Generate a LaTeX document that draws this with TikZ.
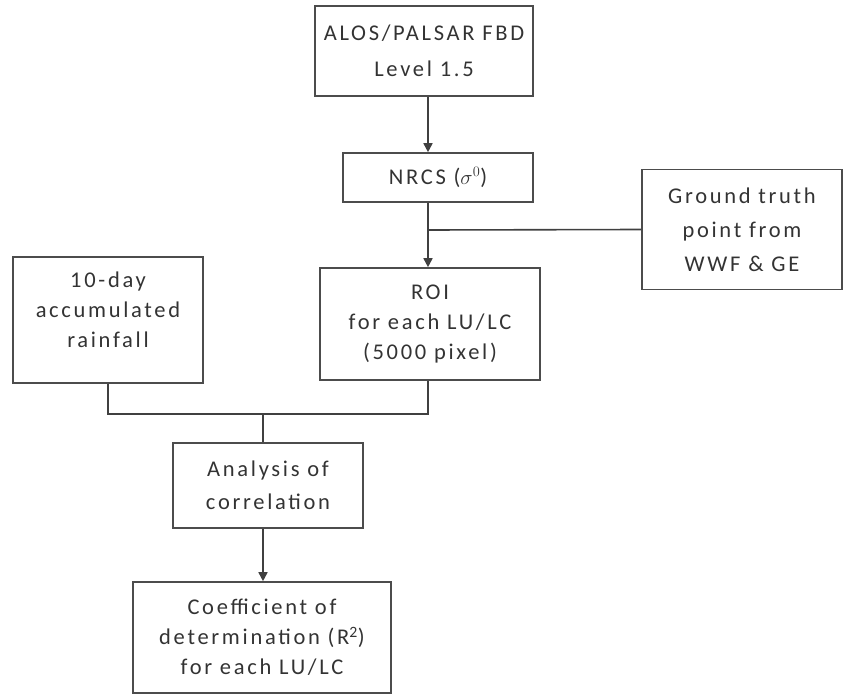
\documentclass[tikz,border=0pt]{standalone}
\usepackage{fontspec}
\setmainfont{Carlito}[LetterSpace=12]
\usetikzlibrary{arrows.meta}
\begin{document}
\begin{tikzpicture}[x=1pt,y=-1pt,
  box/.style={draw=black!70, line width=1.6pt, align=center, inner sep=0pt, text=black!80,
    font=\fontsize{22.5}{30}\selectfont},
  conn/.style={draw=black!75, line width=1.6pt},
  arr/.style={conn, -{Triangle[width=9pt,length=9pt]}}]
\useasboundingbox (0,0) rectangle (845,695);
\node[box, minimum width=218pt, minimum height=90pt] (alos) at (424,51) {ALOS/PALSAR FBD\\[6pt]Level 1.5};
\node[box, minimum width=190pt, minimum height=49pt] (nrcs) at (438,177.5) {NRCS ($\sigma^{0}$)};
\node[box, minimum width=200pt, minimum height=120pt, font=\fontsize{22.5}{34}\selectfont] (gt) at (742,229.5) {Ground truth\\point from\\WWF \& GE};
\node[box, minimum width=220pt, minimum height=112pt] (roi) at (430,324) {ROI\\for each LU/LC\\(5000 pixel)};
\node[box, minimum width=190pt, minimum height=126pt] (rain) at (108,320) {10-day\\accumulated\\rainfall\\[-10pt]};
\node[box, minimum width=190pt, minimum height=85pt, font=\fontsize{22.5}{33}\selectfont] (ana) at (268,485.5) {Analysis of\\correlation};
\node[box, minimum width=258pt, minimum height=111pt] (coef) at (262,637.5) {Coefficient of\\determination (R\textsuperscript{2})\\for each LU/LC};
\coordinate (trunk) at (428,0);
\coordinate (j1) at (428,230);
\coordinate (merge) at (263,414);
\draw[arr] (alos.south -| trunk) -- (nrcs.north -| trunk);
\draw[arr] (nrcs.south -| trunk) -- (roi.north -| trunk);
\draw[conn] (j1) -- (gt.west);
\draw[conn] (rain.south) |- (merge) -| (roi.south -| trunk);
\draw[conn] (merge) -- (ana.north -| merge);
\draw[arr] (ana.south -| merge) -- (coef.north -| merge);
\end{tikzpicture}
\end{document}
